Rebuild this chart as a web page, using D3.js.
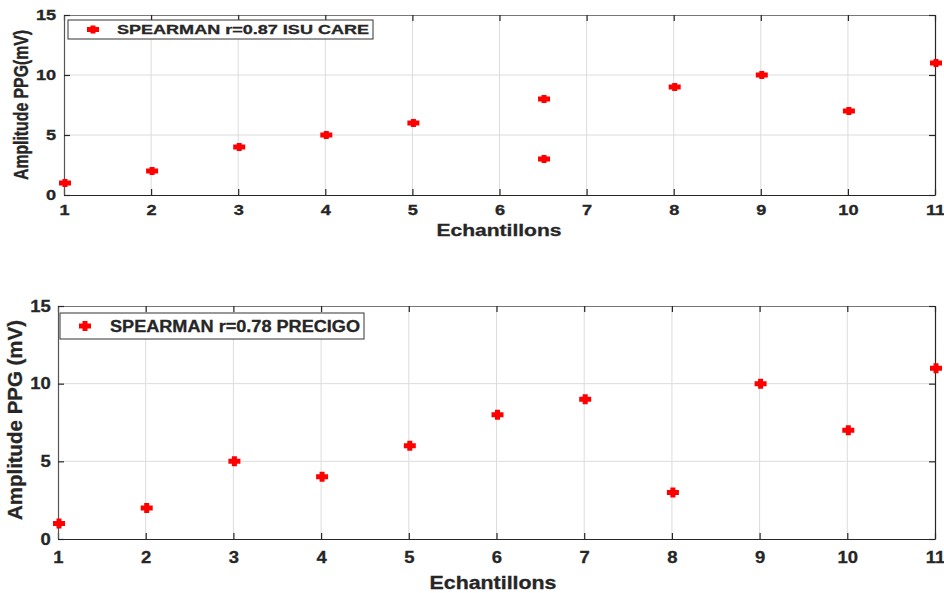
<!DOCTYPE html>
<html>
<head>
<meta charset="utf-8">
<script src="https://cdn.jsdelivr.net/npm/d3@7"></script>
<style>
  body { margin: 0; background: #fff; }
  text { font-family: "Liberation Sans", Arial, sans-serif; font-weight: bold; fill: #262626; }
</style>
</head>
<body>
<svg id="chart" width="944" height="593"></svg>
<script>
// data
var xTicks = [1, 2, 3, 4, 5, 6, 7, 8, 9, 10, 11];
var yTicks = [0, 5, 10, 15];

var isuX = [1, 2, 3, 4, 5, 6.5, 6.5, 8, 9, 10, 11];
var isuY = [1, 2, 4, 5, 6, 8, 3, 9, 10, 7, 11];

var precigoX = [1, 2, 3, 4, 5, 6, 7, 8, 9, 10, 11];
var precigoY = [1, 2, 5, 4, 6, 8, 9, 3, 10, 7, 11];

var svg = d3.select("#chart");

// plus marker, the export is stretched so it is wider than tall
function plusPath(w, h, t) {
  var a = w / 2, b = h / 2, c = t / 2;
  return "M" + (-a) + "," + (-c) + "H" + (-c) + "V" + (-b) + "H" + c + "V" + (-c) +
    "H" + a + "V" + c + "H" + c + "V" + b + "H" + (-c) + "V" + c + "H" + (-a) + "Z";
}

function panel(cfg) {
  var g = svg.append("g");
  var x = d3.scaleLinear().domain([1, 11]).range([cfg.left, cfg.right]);
  var y = d3.scaleLinear().domain([0, 15]).range([cfg.bottom, cfg.top]);

  // grid
  g.append("g").selectAll("line").data(xTicks.slice(1, -1)).enter().append("line")
    .attr("x1", function(d) { return x(d); }).attr("x2", function(d) { return x(d); })
    .attr("y1", cfg.top).attr("y2", cfg.bottom)
    .attr("stroke", "#dcdcdc").attr("stroke-width", 1);
  g.append("g").selectAll("line").data(yTicks.slice(1, -1)).enter().append("line")
    .attr("y1", function(d) { return y(d); }).attr("y2", function(d) { return y(d); })
    .attr("x1", cfg.left).attr("x2", cfg.right)
    .attr("stroke", "#dcdcdc").attr("stroke-width", 1);

  // axes, ticks pointing inward
  var bottomAxis = d3.axisBottom(x).tickValues(xTicks).tickSizeInner(-6).tickSizeOuter(0).tickPadding(cfg.xPad);
  var topAxis = d3.axisTop(x).tickValues(xTicks).tickSizeInner(-6).tickSizeOuter(0).tickFormat("");
  var leftAxis = d3.axisLeft(y).tickValues(yTicks).tickSizeInner(-6).tickSizeOuter(0).tickPadding(cfg.yPad);
  var rightAxis = d3.axisRight(y).tickValues(yTicks).tickSizeInner(-6).tickSizeOuter(0).tickFormat("");

  var ax = [
    g.append("g").attr("transform", "translate(0," + cfg.bottom + ")").call(bottomAxis),
    g.append("g").attr("transform", "translate(0," + cfg.top + ")").call(topAxis),
    g.append("g").attr("transform", "translate(" + cfg.left + ",0)").call(leftAxis),
    g.append("g").attr("transform", "translate(" + cfg.right + ",0)").call(rightAxis)
  ];
  ax.forEach(function(a) {
    a.selectAll(".domain").attr("stroke", "#262626").attr("stroke-width", 1.2);
    a.selectAll(".tick line").attr("stroke", "#262626").attr("stroke-width", 1.2);
    a.selectAll("text").attr("font-size", cfg.tickFont).attr("font-family", null)
      .attr("fill", "#262626").attr("stroke", "#262626").attr("stroke-width", 0.3)
      .attr("transform", "scale(" + cfg.sx + ",1)");
  });
  ax[1].select(".domain").attr("stroke", "#777");
  ax[2].select(".domain").attr("stroke", "#555");

  // points
  var pts = cfg.xs.map(function(d, i) { return [d, cfg.ys[i]]; });
  g.append("g").selectAll("path").data(pts).enter().append("path")
    .attr("d", plusPath(cfg.mw, cfg.mh, cfg.mt))
    .attr("transform", function(d) { return "translate(" + (x(d[0]) + 1) + "," + y(d[1]) + ")"; })
    .attr("fill", "#ff0000");

  // labels
  g.append("text").attr("x", cfg.xlab.x).attr("y", cfg.xlab.y)
    .attr("text-anchor", "middle").attr("font-size", cfg.xlab.font)
    .attr("stroke", "#262626").attr("stroke-width", 0.3)
    .attr("textLength", cfg.xlab.len).attr("lengthAdjust", "spacingAndGlyphs")
    .text("Echantillons");
  g.append("text")
    .attr("transform", "translate(" + cfg.ylab.x + "," + cfg.ylab.y + ") scale(" + cfg.ylab.sx + ",1) rotate(-90)")
    .attr("text-anchor", "middle").attr("font-size", cfg.ylab.font)
    .attr("stroke", "#262626").attr("stroke-width", 0.3)
    .attr("textLength", cfg.ylab.len).attr("lengthAdjust", "spacingAndGlyphs")
    .text(cfg.ylab.text);

  // legend
  var L = cfg.legend;
  g.append("rect").attr("x", L.x).attr("y", L.y).attr("width", L.w).attr("height", L.h)
    .attr("fill", "#fff").attr("stroke", "#333").attr("stroke-width", 1);
  g.append("path").attr("d", plusPath(cfg.mw, cfg.mh, cfg.mt))
    .attr("transform", "translate(" + L.mx + "," + (L.y + L.h / 2) + ")")
    .attr("fill", "#ff0000");
  g.append("text").attr("x", L.tx).attr("y", L.y + L.h / 2).attr("dy", "0.36em")
    .attr("font-size", L.font)
    .attr("stroke", "#262626").attr("stroke-width", 0.3)
    .attr("textLength", L.len).attr("lengthAdjust", "spacingAndGlyphs")
    .text(cfg.name);
}

panel({
  left: 64, right: 935, top: 15, bottom: 195,
  xs: isuX, ys: isuY,
  tickFont: 14, sx: 1.3, xPad: 10, yPad: 6,
  mw: 12, mh: 8, mt: 5,
  xlab: { x: 499, y: 236, font: 16.5, len: 125 },
  ylab: { x: 28, y: 105, font: 16, len: 150, sx: 1.25, text: "Amplitude PPG(mV)" },
  name: "SPEARMAN r=0.87 ISU CARE",
  legend: { x: 68, y: 20, w: 305, h: 19, mx: 93, tx: 117, font: 12.5, len: 252 }
});

panel({
  left: 58, right: 935, top: 306, bottom: 539,
  xs: precigoX, ys: precigoY,
  tickFont: 16.5, sx: 1.12, xPad: 12.5, yPad: 6.5,
  mw: 12, mh: 10, mt: 5,
  xlab: { x: 493, y: 589, font: 18, len: 127 },
  ylab: { x: 22, y: 420, font: 20, len: 200, sx: 1, text: "Amplitude PPG (mV)" },
  name: "SPEARMAN r=0.78 PRECIGO",
  legend: { x: 60, y: 313, w: 304, h: 26, mx: 85, tx: 110, font: 16, len: 250 }
});
</script>
</body>
</html>
